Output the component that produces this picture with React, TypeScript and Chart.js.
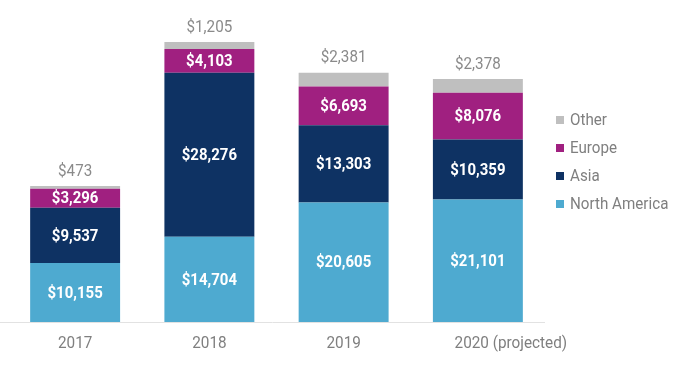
import React, { useEffect, useRef } from "react";
import { Chart, registerables } from "chart.js";

Chart.register(...registerables);

// ---- data ----
const categories = ["2017", "2018", "2019", "2020 (projected)"];
const northAmerica = [10155, 14704, 20605, 21101];
const asia = [9537, 28276, 13303, 10359];
const europe = [3296, 4103, 6693, 8076];
const other = [473, 1205, 2381, 2378];
const seriesNames = ["North America", "Asia", "Europe", "Other"];
const seriesColors = ["#4EAAD0", "#0E3263", "#A02080", "#BFBFBF"];
const yMax = 50000;

const FONT = "Roboto, 'Noto Sans', sans-serif";
const fmt = (v: number) => "$" + v.toLocaleString("en-US");

function drawText(
  ctx: CanvasRenderingContext2D,
  text: string,
  x: number,
  y: number,
  size: number,
  weight: string,
  color: string,
  align: CanvasTextAlign,
  sx = 0.94
) {
  ctx.save();
  ctx.font = `${weight} ${size}px ${FONT}`;
  ctx.fillStyle = color;
  ctx.textBaseline = "middle";
  ctx.textAlign = align;
  ctx.translate(x, y);
  ctx.scale(sx, 1);
  ctx.fillText(text, 0, 0);
  ctx.restore();
}

const labelPlugin = {
  id: "customLabels",
  afterDatasetsDraw(chart: any) {
    const ctx: CanvasRenderingContext2D = chart.ctx;
    const area = chart.chartArea;
    const xScale = chart.scales.x;
    const yScale = chart.scales.y;
    const baseY = Math.round(yScale.getPixelForValue(0));

    // axis baseline
    ctx.save();
    ctx.strokeStyle = "#E2E2E2";
    ctx.lineWidth = 1;
    ctx.beginPath();
    ctx.moveTo(0, baseY + 0.5);
    ctx.lineTo(area.right, baseY + 0.5);
    ctx.stroke();
    ctx.restore();

    // segment labels
    chart.data.datasets.forEach((ds: any, di: number) => {
      const meta = chart.getDatasetMeta(di);
      meta.data.forEach((el: any, i: number) => {
        const v = ds.data[i] as number;
        if (di < 3) {
          const cy = (el.y + el.base) / 2;
          drawText(ctx, fmt(v), el.x, cy + 1, 17, "bold", "#FFFFFF", "center", 0.88);
        } else {
          drawText(ctx, fmt(v), el.x, el.y - 14.5, 16.5, "normal", "#8A8A8A", "center", 0.92);
        }
      });
    });

    // category labels
    const projectedShift = 33;
    categories.forEach((c, i) => {
      const x = xScale.getPixelForTick(i) + (c.includes("(") ? projectedShift : 0);
      drawText(ctx, c, x, baseY + 21.5, 17, "normal", "#7F7F7F", "center", 0.9);
    });

    // legend (reverse order)
    const order = [3, 2, 1, 0];
    order.forEach((si, k) => {
      const cy = 120 + k * 28;
      const bx = area.right + 11;
      ctx.save();
      ctx.fillStyle = seriesColors[si];
      ctx.fillRect(bx, cy - 4, 8, 8);
      ctx.restore();
      drawText(ctx, seriesNames[si], bx + 14, cy + 0.5, 16.5, "normal", "#7F7F7F", "left", 0.92);
    });
  },
};

export default function App() {
  const ref = useRef<HTMLCanvasElement>(null);
  useEffect(() => {
    if (!ref.current) return;
    const series = [northAmerica, asia, europe, other];
    const chart = new Chart(ref.current, {
      type: "bar",
      data: {
        labels: categories,
        datasets: series.map((d, i) => ({
          label: seriesNames[i],
          data: d,
          backgroundColor: seriesColors[i],
          borderWidth: 0,
          barPercentage: 0.67,
          categoryPercentage: 1,
        })),
      },
      options: {
        animation: false,
        responsive: false,
        layout: { padding: { left: 8, right: 135, top: 32, bottom: 46 } },
        plugins: { legend: { display: false }, tooltip: { enabled: false } },
        scales: {
          x: { stacked: true, display: false },
          y: { stacked: true, display: false, min: 0, max: yMax },
        },
      },
      plugins: [labelPlugin],
    });
    return () => chart.destroy();
  }, []);
  return (
    <div style={{ position: "fixed", left: 0, top: 0, width: 680, height: 368, background: "#fff" }}>
      <canvas ref={ref} width={680} height={368} style={{ display: "block" }} />
    </div>
  );
}
